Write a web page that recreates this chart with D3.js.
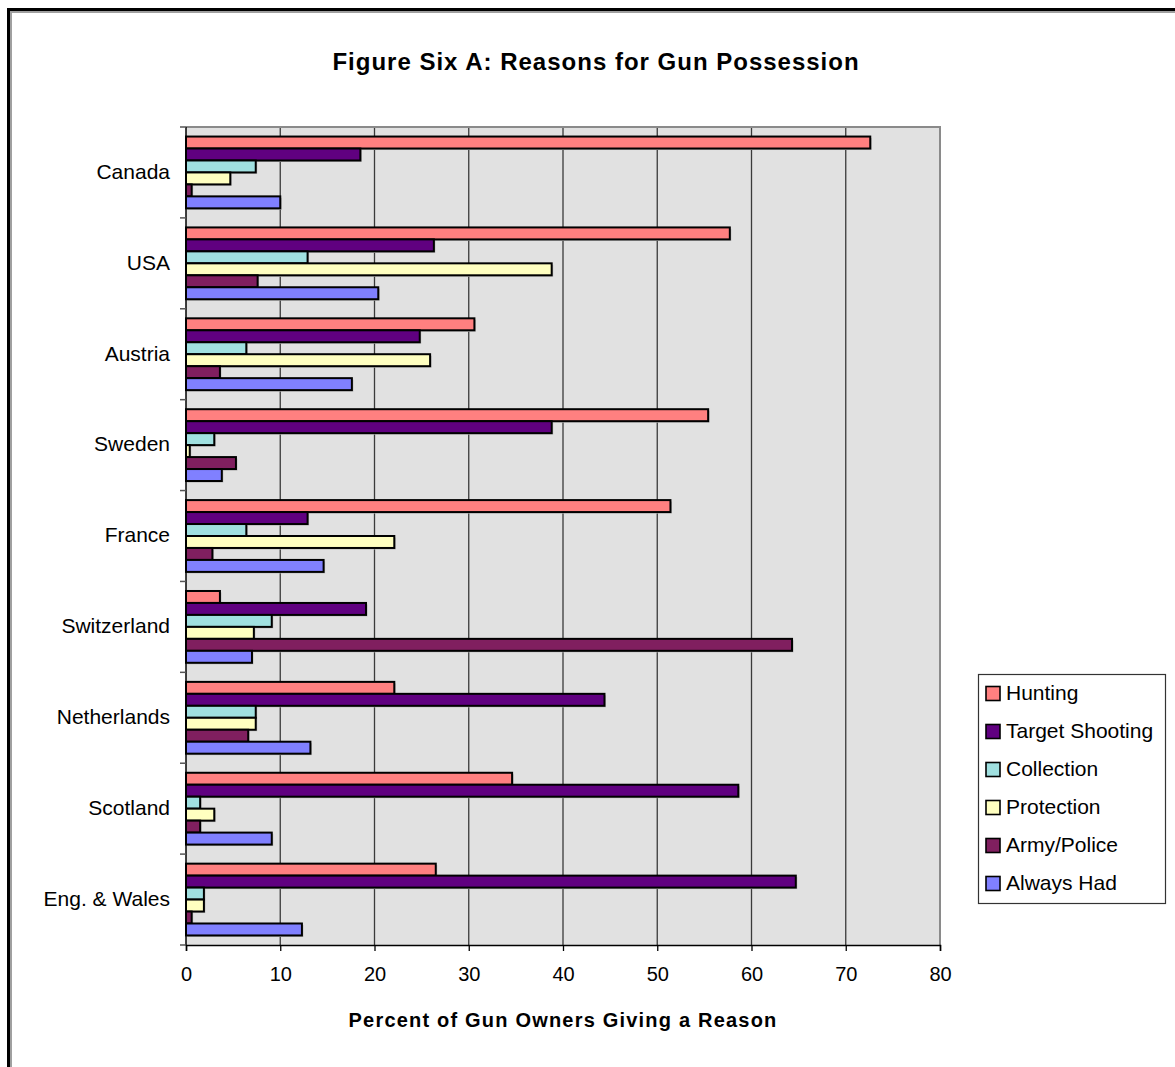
<!DOCTYPE html>
<html>
<head>
<meta charset="utf-8">
<script src="https://cdn.jsdelivr.net/npm/d3@7"></script>
<style>
  html, body { margin: 0; padding: 0; background: #ffffff; }
  svg { display: block; font-family: "Liberation Sans", Arial, sans-serif; }
</style>
</head>
<body>
<svg id="chart" width="1175" height="1067"></svg>
<script>
// Countries, top to bottom
const countries = ["Canada", "USA", "Austria", "Sweden", "France", "Switzerland", "Netherlands", "Scotland", "Eng. & Wales"];

// Reasons given (series order within each country group)
const reasons = ["Hunting", "Target Shooting", "Collection", "Protection", "Army/Police", "Always Had"];
const reasonColors = ["#ff8080", "#600080", "#a0e0e0", "#ffffc0", "#801f5f", "#8080ff"];

// Percent of gun owners giving each reason, one array per reason, in country order
const hunting        = [72.6, 57.7, 30.6, 55.4, 51.4,  3.6, 22.1, 34.6, 26.5];
const targetShooting = [18.5, 26.3, 24.8, 38.8, 12.9, 19.1, 44.4, 58.6, 64.7];
const collection     = [ 7.4, 12.9,  6.4,  3.0,  6.4,  9.1,  7.4,  1.5,  1.9];
const protection     = [ 4.7, 38.8, 25.9,  0.4, 22.1,  7.2,  7.4,  3.0,  1.9];
const armyPolice     = [ 0.6,  7.6,  3.6,  5.3,  2.8, 64.3,  6.6,  1.5,  0.6];
const alwaysHad      = [10.0, 20.4, 17.6,  3.8, 14.6,  7.0, 13.2,  9.1, 12.3];

const seriesValues = [hunting, targetShooting, collection, protection, armyPolice, alwaysHad];

// Value axis ticks
const xTicks = [0, 10, 20, 30, 40, 50, 60, 70, 80];

const svg = d3.select("#chart");

// Outer chart frame (open to the right and bottom)
svg.append("path")
  .attr("d", "M9.5,1067 V10.5 H1175")
  .attr("fill", "none").attr("stroke", "#a0a0a0").attr("stroke-width", 3)
  .attr("transform", "translate(1,1)");
svg.append("path")
  .attr("d", "M8.5,1067 V9.5 H1175")
  .attr("fill", "none").attr("stroke", "#000").attr("stroke-width", 3);

// Title
svg.append("text")
  .attr("x", 596).attr("y", 70)
  .attr("text-anchor", "middle")
  .attr("font-size", 24).attr("font-weight", "bold")
  .attr("letter-spacing", 1.0)
  .text("Figure Six A: Reasons for Gun Possession");

const plot = { left: 186, right: 940, top: 127, bottom: 945 };

const x = d3.scaleLinear().domain([0, 80]).range([plot.left, plot.right]);
const y = d3.scaleBand().domain(countries).range([plot.top, plot.bottom])
  .paddingInner(0.21).paddingOuter(0.105);
const ySub = d3.scaleBand().domain(reasons).range([0, y.bandwidth()]);
const yCat = d3.scalePoint().domain(d3.range(countries.length + 1)).range([plot.top, plot.bottom]);

// Plot area background
svg.append("rect")
  .attr("x", plot.left).attr("y", plot.top)
  .attr("width", plot.right - plot.left).attr("height", plot.bottom - plot.top)
  .attr("fill", "#e1e1e1");

// Vertical gridlines
svg.append("g").selectAll("line")
  .data(xTicks.slice(1, -1))
  .join("line")
  .attr("x1", d => x(d)).attr("x2", d => x(d))
  .attr("y1", plot.top).attr("y2", plot.bottom)
  .attr("stroke", "#3a3a3a").attr("stroke-width", 1.3);

// Plot area border (top and right)
svg.append("path")
  .attr("d", `M${plot.left},${plot.top} H${plot.right} V${plot.bottom}`)
  .attr("fill", "none").attr("stroke", "#8a8a8a").attr("stroke-width", 2);

// Bars
const rows = [];
countries.forEach((c, i) => {
  reasons.forEach((r, j) => rows.push({ country: c, reason: r, value: seriesValues[j][i], color: reasonColors[j] }));
});

const barG = svg.append("g");
// soft drop shadow under each bar
barG.selectAll("rect.shadow")
  .data(rows)
  .join("rect")
  .attr("class", "shadow")
  .attr("x", x(0) + 1.5)
  .attr("y", d => y(d.country) + ySub(d.reason) + 1.5)
  .attr("width", d => x(d.value) - x(0))
  .attr("height", ySub.bandwidth())
  .attr("fill", "#b8b8b8");
barG.selectAll("rect.bar")
  .data(rows)
  .join("rect")
  .attr("class", "bar")
  .attr("x", x(0))
  .attr("y", d => y(d.country) + ySub(d.reason))
  .attr("width", d => x(d.value) - x(0))
  .attr("height", ySub.bandwidth())
  .attr("fill", d => d.color)
  .attr("stroke", "#000").attr("stroke-width", 2);

// Category axis: boundary ticks between groups, labels centred on each group
const catAxis = svg.append("g");
catAxis.append("line")
  .attr("x1", plot.left).attr("x2", plot.left)
  .attr("y1", plot.top).attr("y2", plot.bottom)
  .attr("stroke", "#000").attr("stroke-width", 1.5);
catAxis.selectAll("line.tick")
  .data(yCat.domain())
  .join("line")
  .attr("class", "tick")
  .attr("x1", plot.left - 6).attr("x2", plot.left)
  .attr("y1", d => yCat(d)).attr("y2", d => yCat(d))
  .attr("stroke", "#555").attr("stroke-width", 1.5);
catAxis.selectAll("text")
  .data(countries)
  .join("text")
  .attr("x", 170)
  .attr("y", d => y(d) + y.bandwidth() / 2 - 1)
  .attr("dy", "0.35em")
  .attr("text-anchor", "end")
  .attr("font-size", 21)
  .attr("fill", "#000")
  .text(d => d);

// Value axis
const xAxis = d3.axisBottom(x).tickValues(xTicks).tickSize(6).tickPadding(16);
const xg = svg.append("g")
  .attr("transform", `translate(0,${plot.bottom})`)
  .call(xAxis);
xg.select(".domain").attr("stroke", "#000").attr("stroke-width", 1.5);
xg.selectAll(".tick line").attr("stroke", "#000").attr("stroke-width", 1.3);
xg.selectAll(".tick text")
  .attr("font-size", 20).attr("font-family", "Liberation Sans, Arial, sans-serif").attr("fill", "#000");

// Value axis title
svg.append("text")
  .attr("x", 563).attr("y", 1027)
  .attr("text-anchor", "middle")
  .attr("font-size", 20).attr("font-weight", "bold")
  .attr("letter-spacing", 1.2)
  .text("Percent of Gun Owners Giving a Reason");

// Legend
const legend = svg.append("g");
legend.append("rect")
  .attr("x", 978.5).attr("y", 674.5).attr("width", 187).attr("height", 229)
  .attr("fill", "#fff").attr("stroke", "#333").attr("stroke-width", 1.2);
const legendY = d3.scalePoint().domain(reasons).range([693, 883]);
const items = legend.selectAll("g.item")
  .data(reasons)
  .join("g")
  .attr("class", "item")
  .attr("transform", d => `translate(0,${legendY(d)})`);
items.append("rect")
  .attr("x", 986).attr("y", -6.5).attr("width", 14).attr("height", 14)
  .attr("fill", (d, i) => reasonColors[i])
  .attr("stroke", "#000").attr("stroke-width", 1.6);
items.append("text")
  .attr("x", 1006).attr("y", 0)
  .attr("dy", "0.35em")
  .attr("font-size", 21)
  .attr("fill", "#000")
  .text(d => d);
</script>
</body>
</html>
